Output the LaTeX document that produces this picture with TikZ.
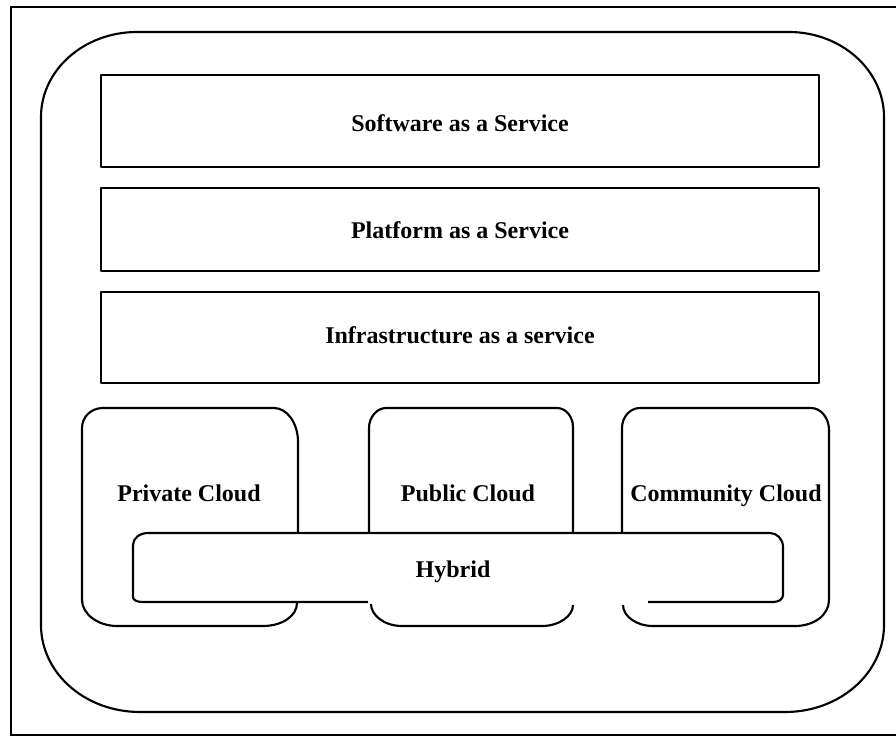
\documentclass[tikz,border=0pt]{standalone}
\usepackage{fontspec}
\setmainfont{Liberation Serif}
\begin{document}
\begin{tikzpicture}[x=0.75pt,y=-0.75pt,
  frame/.style={draw=black,line width=1.1pt},
  outline/.style={draw=black,line width=1.6pt,line join=round},
  label/.style={anchor=base,inner sep=0pt,font=\bfseries\fontsize{18pt}{20pt}\selectfont}]
\useasboundingbox (0,0) rectangle (896,737);
% outer frame
\draw[frame] (11,7) rectangle (906,735);
% big rounded container
\draw[outline] (137,32) -- (789,32) .. controls (841,32) and (884,70) .. (884,117)
  -- (884,625) .. controls (884,673) and (840,712) .. (785,712)
  -- (140,712) .. controls (85,712) and (41,673) .. (41,625)
  -- (41,117) .. controls (41,70) and (84,32) .. (137,32) -- cycle;
% service layers
\draw[outline] (101,75) rectangle (819,167);
\draw[outline] (101,188) rectangle (819,271);
\draw[outline] (101,292) rectangle (819,383);
\node[label] (saas) at (460,132) {Software as a Service};
\node[label] (paas) at (460,239) {Platform as a Service};
\node[label] (iaas) at (460,344) {Infrastructure as a service};
% private cloud
\draw[outline] (298,533) -- (298,442) .. controls (298,423) and (287,408) .. (274,408)
  -- (103,408) .. controls (91,408) and (82,417) .. (82,428)
  -- (82,600) .. controls (82,614) and (98,626) .. (117,626)
  -- (263,626) .. controls (282,626) and (297,616) .. (297,603);
% public cloud
\draw[outline] (369,533) -- (369,428) .. controls (369,417) and (377,408) .. (386,408)
  -- (557,408) .. controls (566,408) and (573,417) .. (573,427) -- (573,533);
\draw[outline] (371,604) .. controls (371,615) and (384,626) .. (402,626)
  -- (542,626) .. controls (559,626) and (573,616) .. (573,605);
% community cloud
\draw[outline] (622,533) -- (622,428) .. controls (622,417) and (630,408) .. (640,408)
  -- (811,408) .. controls (821,408) and (829,418) .. (829,430)
  -- (829,600) .. controls (829,615) and (814,626) .. (795,626)
  -- (653,626) .. controls (636,626) and (623,616) .. (623,605);
% hybrid
\draw[outline] (648,602) -- (773,602) .. controls (779,602) and (783,599) .. (783,595)
  -- (783,547) .. controls (783,539) and (777,533) .. (770,533)
  -- (148,533) .. controls (140,533) and (133,538) .. (133,545)
  -- (133,597) .. controls (133,600) and (137,602) .. (142,602) -- (368,602);
\node[label] (private) at (189,502) {Private Cloud};
\node[label] (public) at (468,502) {Public Cloud};
\node[label] (community) at (726,502) {Community Cloud};
\node[label] (hybrid) at (453,577) {Hybrid};
\end{tikzpicture}
\end{document}
